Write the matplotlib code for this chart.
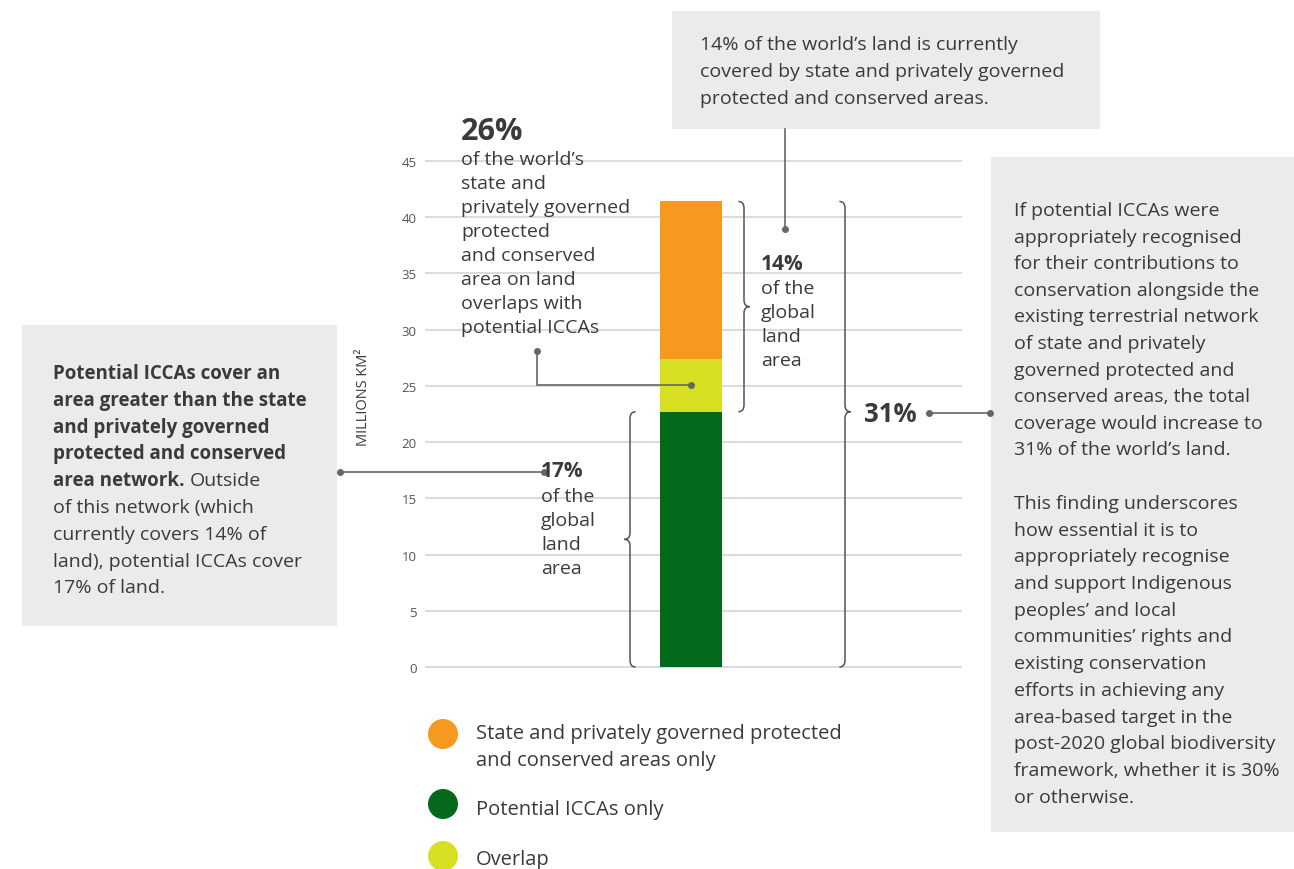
import matplotlib
matplotlib.use('Agg')
import matplotlib.pyplot as plt
from matplotlib.patches import Rectangle, Circle, PathPatch
from matplotlib.path import Path

plt.rcParams['font.family'] = ['Open Sans', 'DejaVu Sans']

# data (millions km²)
segments = ['Potential ICCAs only', 'Overlap',
            'State and privately governed protected\nand conserved areas only']
values = [22.7, 4.7, 14.0]
colors = ['#05691c', '#d7df22', '#f7991e']
legend_order = [2, 0, 1]
yticks = [0, 5, 10, 15, 20, 25, 30, 35, 40, 45]

W, H = 1294, 870
TXT = '#3a3a3a'
LINE = '#666666'
BOX = '#ebebeb'
FS = 14
FSB = 13.5
OFF = 2  # small vertical nudge for text

fig = plt.figure(figsize=(W / 100, H / 100), dpi=100)

# main chart axes, ylim padded so 0 and 45 gridlines are visible
pad = 0.5
ppu = (668 - 162) / 45.0
ax_bot = 668 + pad * ppu
ax_top = 162 - pad * ppu
bw = 62.0
xl = -(691 - 425) / bw
xr = (962 - 691) / bw
ax = fig.add_axes([425 / W, 1 - ax_bot / H, (962 - 425) / W, (ax_bot - ax_top) / H])
ax.set_ylim(-pad, 45 + pad)
ax.set_xlim(xl, xr)

bottom = 0
tops = []
for v, c in zip(values, colors):
    ax.bar(0, v, width=1.0, bottom=bottom, color=c, zorder=3)
    bottom += v
    tops.append(bottom)

ax.set_yticks(yticks)
ax.set_yticklabels([str(t) for t in yticks], color='#555555', fontsize=9.5)
ax.tick_params(axis='y', length=0, pad=6)
ax.set_xticks([])
ax.yaxis.grid(True, color='#d4d4d4', lw=1.2, zorder=0)
for s in ax.spines.values():
    s.set_visible(False)
ax.set_ylabel('MILLIONS KM²', fontsize=10.5, color=TXT)
ax.yaxis.set_label_coords((371 - 425) / 537, (ax_bot - 397) / (ax_bot - ax_top))


def brace(x0, y0, y1, ymid, d, r, right=True):
    s = 1 if right else -1
    verts = [(x0 - s * d, y1), (x0, y1), (x0, y1 - r),
             (x0, ymid + r), (x0, ymid), (x0 + s * d, ymid),
             (x0, ymid), (x0, ymid - r),
             (x0, y0 + r), (x0, y0), (x0 - s * d, y0)]
    codes = [Path.MOVETO, Path.CURVE3, Path.CURVE3,
             Path.LINETO, Path.CURVE3, Path.CURVE3,
             Path.CURVE3, Path.CURVE3,
             Path.LINETO, Path.CURVE3, Path.CURVE3]
    ax.add_patch(PathPatch(Path(verts, codes), fill=False, ec='#555555',
                           lw=1.1, clip_on=False, zorder=4))


bx = lambda px: (px - 691) / bw
brace(bx(744), tops[0], tops[2], (tops[0] + tops[2]) / 2, 0.09, 0.6, True)
brace(bx(845), 0, tops[2], tops[0], 0.09, 0.6, True)
brace(bx(630), 0, tops[0], tops[0] / 2, 0.09, 0.6, False)

# connector from "26%" note to overlap segment
ymid = (tops[0] + tops[1]) / 2
ax.plot([0, bx(537), bx(537)], [ymid, ymid, (668 - 352) / ppu],
        color=LINE, lw=1.2, clip_on=False, zorder=5)
ax.plot([0, bx(537)], [ymid, (668 - 352) / ppu], 'o', ms=4, color=LINE,
        clip_on=False, zorder=5)

# overlay axes in pixel coordinates for notes
ov = fig.add_axes([0, 0, 1, 1], zorder=-1)
ov.set_xlim(0, W)
ov.set_ylim(H, 0)
ov.axis('off')
ov2 = fig.add_axes([0, 0, 1, 1], zorder=10)
ov2.set_xlim(0, W)
ov2.set_ylim(H, 0)
ov2.axis('off')
ov2.patch.set_alpha(0)

for (x0, y0, x1, y1) in [(672, 12, 1100, 130), (991, 158, 1294, 833), (22, 326, 337, 627)]:
    ov.add_patch(Rectangle((x0, y0), x1 - x0, y1 - y0, color=BOX, lw=0))


def lines(x, y0, dy, items, **kw):
    for i, t in enumerate(items):
        ov2.text(x, y0 + OFF + i * dy, t, va='center', ha='left', color=TXT, **kw)


lines(700, 43, 27, ['14% of the world\u2019s land is currently',
                    'covered by state and privately governed',
                    'protected and conserved areas.'], fontsize=FS)

lines(1014, 209, 26.6, ['If potential ICCAs were',
                        'appropriately recognised',
                        'for their contributions to',
                        'conservation alongside the',
                        'existing terrestrial network',
                        'of state and privately',
                        'governed protected and',
                        'conserved areas, the total',
                        'coverage would increase to',
                        '31% of the world\u2019s land.'], fontsize=FS)
lines(1014, 502, 26.7, ['This finding underscores',
                        'how essential it is to',
                        'appropriately recognise',
                        'and support Indigenous',
                        'peoples\u2019 and local',
                        'communities\u2019 rights and',
                        'existing conservation',
                        'efforts in achieving any',
                        'area-based target in the',
                        'post-2020 global biodiversity',
                        'framework, whether it is 30%',
                        'or otherwise.'], fontsize=FS)

lines(53, 372, 26.8, ['Potential ICCAs cover an',
                      'area greater than the state',
                      'and privately governed',
                      'protected and conserved'], fontsize=FSB, fontweight='bold')
t_b = ov2.text(53, 372 + OFF + 4 * 26.8, 'area network.', va='center', ha='left',
               color=TXT, fontsize=FSB, fontweight='bold')
fig.canvas.draw()
bb = t_b.get_window_extent()
ov2.text(bb.x1 + 5, 372 + OFF + 4 * 26.8, 'Outside', va='center', ha='left',
         color=TXT, fontsize=FS)
lines(53, 372 + 5 * 26.8, 26.8, ['of this network (which',
                                 'currently covers 14% of',
                                 'land), potential ICCAs cover',
                                 '17% of land.'], fontsize=FS)

# 26% note
ov2.text(461, 130 + OFF, '26%', va='center', ha='left', color=TXT, fontsize=22,
         fontweight='bold')
lines(461, 158, 24, ['of the world\u2019s', 'state and', 'privately governed',
                     'protected', 'and conserved', 'area on land',
                     'overlaps with', 'potential ICCAs'], fontsize=FS)

# 14% note
ov2.text(761, 263 + OFF, '14%', va='center', ha='left', color=TXT, fontsize=15,
         fontweight='bold')
lines(761, 287, 24, ['of the', 'global', 'land', 'area'], fontsize=FS)

# 17% note
ov2.text(541, 470 + OFF, '17%', va='center', ha='left', color=TXT, fontsize=15,
         fontweight='bold')
lines(541, 495, 24, ['of the', 'global', 'land', 'area'], fontsize=FS)

# 31%
ov2.text(864, 413 + OFF, '31%', va='center', ha='left', color=TXT, fontsize=18.5,
         fontweight='bold')

# connectors
ov2.plot([785, 785], [130, 230], color=LINE, lw=1.2)
ov2.plot([785], [230], 'o', ms=4, color=LINE)
ov2.plot([340, 544], [473, 473], color=LINE, lw=1.2)
ov2.plot([340, 544], [473, 473], 'o', ms=4, color=LINE)
ov2.plot([929, 990], [414, 414], color=LINE, lw=1.2)
ov2.plot([929, 990], [414, 414], 'o', ms=4, color=LINE)

# legend
leg_y = [735, 805, 857]
label_y = [[732, 759], [808], [858]]
for k, i in enumerate(legend_order):
    ov2.add_patch(Circle((443, leg_y[k]), 15, color=colors[i], lw=0))
    for j, t in enumerate(segments[i].split('\n')):
        ov2.text(476, label_y[k][j] + OFF, t, va='center', ha='left', color=TXT,
                 fontsize=14.5)

fig.savefig('out.png', dpi=100)
